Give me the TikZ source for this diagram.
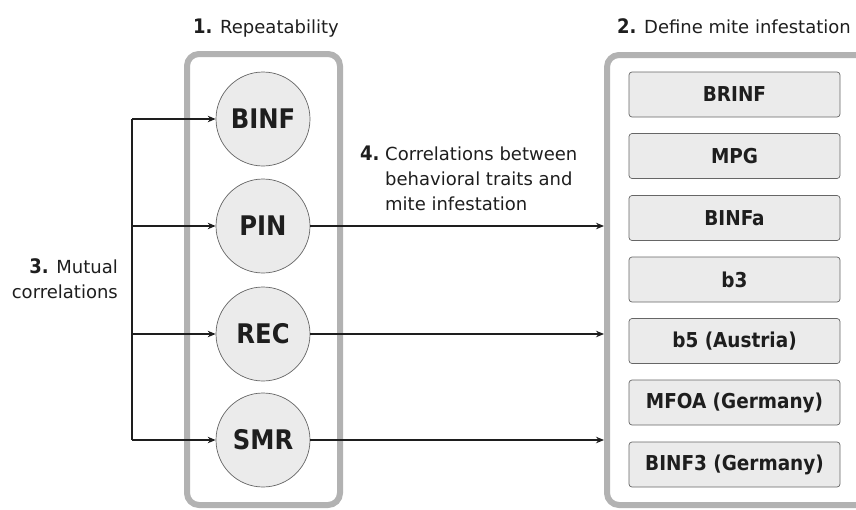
\documentclass[tikz,border=0pt]{standalone}
\usepackage{fontspec}
\setmainfont{DejaVu Sans}
\newfontfamily\condfont{DejaVu Sans Condensed}
\usetikzlibrary{arrows.meta}
\definecolor{txt}{HTML}{1E1E1E}
\definecolor{cont}{HTML}{B2B2B2}
\definecolor{fillg}{HTML}{EBEBEB}
\definecolor{edgeg}{HTML}{666666}
\newcommand{\numlbl}[1]{{\fontsize{20}{24}\selectfont\condfont\bfseries #1}}
\begin{document}
\begin{tikzpicture}[x=1pt,y=-1pt,
  container/.style={draw=cont,line width=6pt,rounded corners=12pt},
  trait/.style={circle,draw=edgeg,line width=0.7pt,fill=fillg,minimum size=94pt,inner sep=0pt,font=\fontsize{27}{30}\selectfont\condfont\bfseries,text=txt},
  infbox/.style={draw=edgeg,line width=0.7pt,fill=fillg,rounded corners=3pt,minimum width=211pt,minimum height=45pt,inner sep=0pt,font=\fontsize{20.5}{22}\selectfont\condfont\bfseries,text=txt},
  lbl/.style={font=\fontsize{18}{24.5}\selectfont,text=txt,inner sep=0pt},
  conn/.style={line width=1.1pt,draw=txt,-{Stealth[length=8pt,width=6.5pt]}},
  plain/.style={line width=1.1pt,draw=txt}]
\useasboundingbox (0,0) rectangle (856,509);
% containers
\draw[container] (187,54) rectangle (340,505);
\draw[container] (607,55) rectangle (880,505);
% circles
\node[trait] (binf) at (263,119) {BINF};
\node[trait] (pin) at (263,226) {PIN};
\node[trait] (rec) at (263,334) {REC};
\node[trait] (smr) at (263,440) {SMR};
% boxes
\node[infbox] (b1) at (734.5,94.5) {BRINF};
\node[infbox] (b2) at (734.5,156) {MPG};
\node[infbox] (b3) at (734.5,218) {BINFa};
\node[infbox] (b4) at (734.5,279.5) {b3};
\node[infbox] (b5) at (734.5,341) {b5 (Austria)};
\node[infbox] (b6) at (734.5,402.5) {MFOA (Germany)};
\node[infbox] (b7) at (734.5,464.5) {BINF3 (Germany)};
% left bus
\coordinate (vt) at (132,119);
\coordinate (vb) at (132,440);
\draw[plain] (vt) -- (vb);
\coordinate (l1) at (132,119);
\coordinate (l2) at (132,226);
\coordinate (l3) at (132,334);
\coordinate (l4) at (132,440);
\draw[conn] (l1) -- (binf.west);
\draw[conn] (l2) -- (pin.west);
\draw[conn] (l3) -- (rec.west);
\draw[conn] (l4) -- (smr.west);
% right arrows
\coordinate (r2) at (604,226);
\coordinate (r3) at (604,334);
\coordinate (r4) at (604,440);
\draw[conn] (pin.east) -- (r2);
\draw[conn] (rec.east) -- (r3);
\draw[conn] (smr.east) -- (r4);
% labels
\node[lbl,anchor=base west] (t1) at (193,33) {\numlbl{1.} Repeatability};
\node[lbl,anchor=base west] (t2) at (617,33) {\numlbl{2.} Define mite infestation};
\node[lbl,anchor=base east] (t3a) at (118,273) {\numlbl{3.} Mutual};
\node[lbl,anchor=base east] (t3b) at (118,298) {correlations};
\node[lbl,anchor=base west] (t4n) at (360,160) {\numlbl{4.}};
\node[lbl,anchor=base west] (t4a) at (385,160) {Correlations between};
\node[lbl,anchor=base west] (t4b) at (385,185) {behavioral traits and};
\node[lbl,anchor=base west] (t4c) at (385,210) {mite infestation};
\end{tikzpicture}
\end{document}
